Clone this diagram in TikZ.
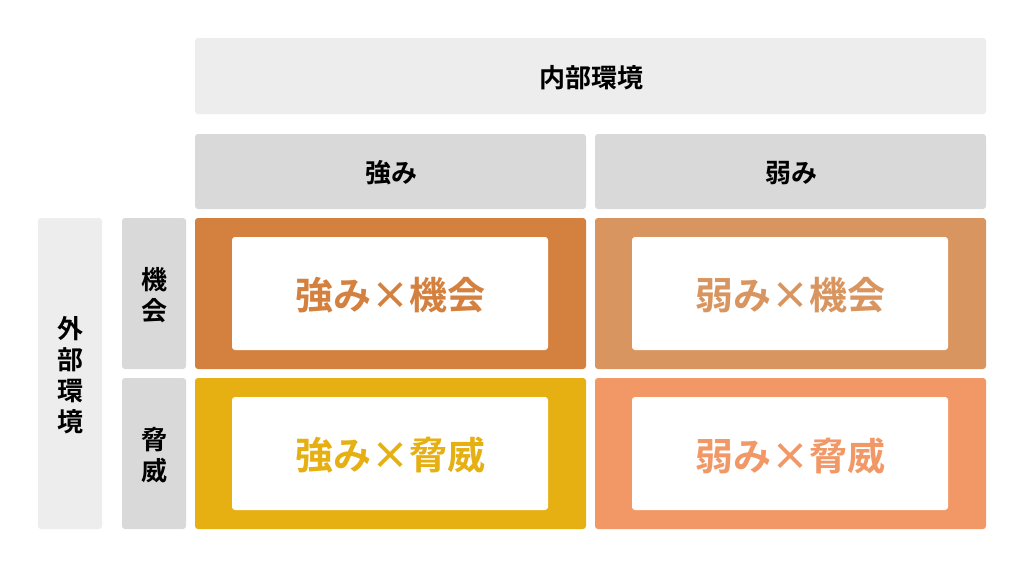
\documentclass[tikz,border=0pt]{standalone}
\usepackage{fontspec}
\setmainfont{Noto Sans CJK JP}[BoldFont={Noto Sans CJK JP Bold}]
\definecolor{hdrA}{HTML}{EDEDED}
\definecolor{hdrB}{HTML}{D9D9D9}
\definecolor{qTL}{HTML}{D4813F}
\definecolor{qTR}{HTML}{D9955F}
\definecolor{qBL}{HTML}{E6AF12}
\definecolor{qBR}{HTML}{F29766}
\tikzset{
  cell/.style={rounded corners=3pt, inner sep=0pt, outer sep=0pt},
  lbl/.style={inner sep=0pt, font=\bfseries\fontsize{26}{31}\selectfont, align=center, text=black},
  quad/.style={rounded corners=3pt, inner sep=0pt, outer sep=0pt, minimum width=391pt, minimum height=151pt},
  inner/.style={fill=white, rounded corners=3pt, inner sep=0pt, minimum width=316pt, minimum height=113pt},
  qtext/.style={inner sep=0pt, font=\bfseries\fontsize{38}{40}\selectfont},
}
\begin{document}
\begin{tikzpicture}[x=1pt,y=-1pt]
\useasboundingbox (0,0) rectangle (1024,568);
\fill[white] (0,0) rectangle (1024,568);
% headers
\node[cell, fill=hdrA, minimum width=791pt, minimum height=76pt] (naibu) at (590.5,76) {};
\node[lbl] (naibuT) at (591,77.5) {内部環境};
\node[cell, fill=hdrB, minimum width=391pt, minimum height=75pt] (tsuyomi) at (390.5,171.5) {};
\node[lbl] (tsuyomiT) at (391,173) {強み};
\node[cell, fill=hdrB, minimum width=391pt, minimum height=75pt] (yowami) at (790.5,171.5) {};
\node[lbl] (yowamiT) at (791,173) {弱み};
\node[cell, fill=hdrA, minimum width=64pt, minimum height=311pt] (gaibu) at (70,373.5) {};
\node[lbl] (gaibuT) at (70,375.5) {外\\部\\環\\境};
\node[cell, fill=hdrB, minimum width=64pt, minimum height=151pt] (kikai) at (154,293.5) {};
\node[lbl] (kikaiT) at (154,295.5) {機\\会};
\node[cell, fill=hdrB, minimum width=64pt, minimum height=151pt] (kyoui) at (154,453.5) {};
\node[lbl] (kyouiT) at (154,455.5) {脅\\威};
% quadrants
\node[quad, fill=qTL] (tl) at (390.5,293.5) {};
\node[quad, fill=qTR] (tr) at (790.5,293.5) {};
\node[quad, fill=qBL] (bl) at (390.5,453.5) {};
\node[quad, fill=qBR] (br) at (790.5,453.5) {};
\node[inner] (tli) at (390,293.5) {};
\node[inner] (tri) at (790,293.5) {};
\node[inner] (bli) at (390,453.5) {};
\node[inner] (bri) at (790,453.5) {};
\node[qtext, text=qTL] (tlt) at (390,295.5) {強み×機会};
\node[qtext, text=qTR] (trt) at (790,295.5) {弱み×機会};
\node[qtext, text=qBL] (blt) at (390,455.5) {強み×脅威};
\node[qtext, text=qBR] (brt) at (790,455.5) {弱み×脅威};
\end{tikzpicture}
\end{document}
